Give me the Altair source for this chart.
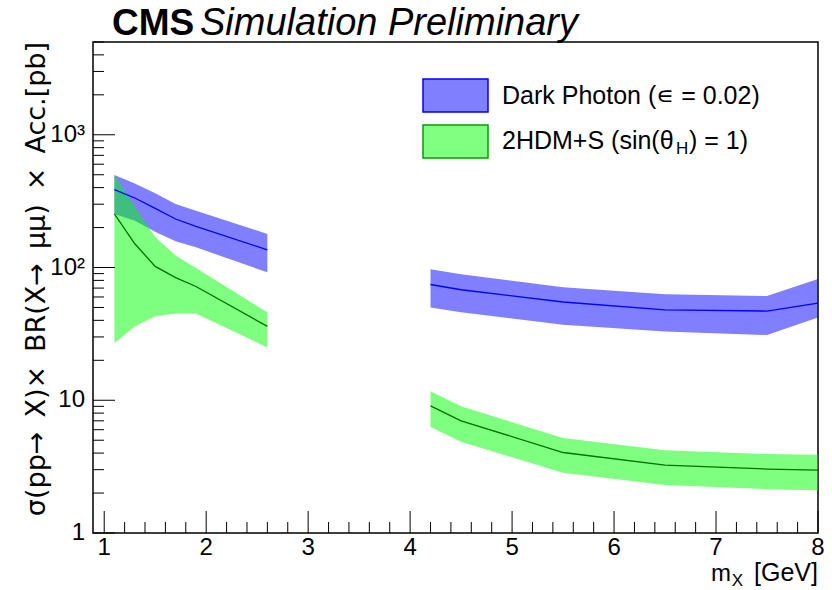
import altair as alt
import pandas as pd

# ---------------- data ----------------
mass_low = [1.1, 1.3, 1.5, 1.7, 1.9, 2.6]
mass_high = [4.2, 4.5, 5.5, 6.5, 7.5, 8.0]

dp_central_low = [386, 334, 279, 232, 204, 136]
dp_up_low = [498, 430, 362, 301, 268, 179]
dp_down_low = [253, 225, 186, 158, 142, 92]
dp_central_high = [74.5, 68, 55, 48, 47, 54]
dp_up_high = [97, 89, 71, 63, 61, 82]
dp_down_high = [50, 46, 37, 33, 31, 42]

hdm_central_low = [254, 151, 102, 84, 72, 36]
hdm_up_low = [498, 288, 170, 123, 99, 46]
hdm_down_low = [27, 36, 43, 45, 45, 25]
hdm_central_high = [9.06, 7.0, 4.04, 3.25, 3.03, 2.98]
hdm_up_high = [11.7, 9.0, 5.2, 4.2, 3.93, 3.88]
hdm_down_high = [6.3, 4.86, 2.84, 2.30, 2.14, 2.10]

y_major = [1, 10, 100, 1000]
y_major_labels = ["1", "10", "10²", "10³"]
y_minor = [m * d for d in [1, 10, 100, 1000] for m in range(2, 10) if m * d <= 5000]
x_major = [1, 2, 3, 4, 5, 6, 7, 8]
x_minor = [round(1 + 0.2 * i, 1) for i in range(36) if round(1 + 0.2 * i, 1) not in x_major]

legend_labels = ["Dark Photon (∊ = 0.02)", "2HDM+S (sin(θ"]

W, H = 725, 491
XDOM = [0.89, 8.0]
YDOM = [1, 5000]

rows = []
for seg, xs_, c, u, d in [("a", mass_low, dp_central_low, dp_up_low, dp_down_low),
                          ("b", mass_high, dp_central_high, dp_up_high, dp_down_high)]:
    for xi, ci, ui, di in zip(xs_, c, u, d):
        rows.append(dict(model="dp", seg=seg, m=xi, c=ci, up=ui, down=di))
for seg, xs_, c, u, d in [("a", mass_low, hdm_central_low, hdm_up_low, hdm_down_low),
                          ("b", mass_high, hdm_central_high, hdm_up_high, hdm_down_high)]:
    for xi, ci, ui, di in zip(xs_, c, u, d):
        rows.append(dict(model="hdm", seg=seg, m=xi, c=ci, up=ui, down=di))
df = pd.DataFrame(rows)
dp = df[df.model == "dp"]
hdm = df[df.model == "hdm"]

xs = alt.Scale(domain=XDOM, nice=False, zero=False)
ys = alt.Scale(type="log", domain=YDOM, nice=False)
X = alt.X("m:Q", scale=xs, axis=None)

def band(d, color):
    return alt.Chart(d).mark_area(color=color, opacity=0.5, clip=True).encode(
        x=X,
        y=alt.Y("down:Q", scale=ys, axis=None, stack=None),
        y2="up:Q",
        detail="seg:N",
    )

def line(d, color):
    return alt.Chart(d).mark_line(color=color, strokeWidth=1.3, clip=True).encode(
        x=X,
        y=alt.Y("c:Q", scale=ys, axis=None),
        detail="seg:N",
        order="m:Q",
    )

FONT = "Liberation Sans"

# ticks
ymaj = pd.DataFrame({"v": y_major, "lab": y_major_labels})
ymin = pd.DataFrame({"v": y_minor})
xmaj = pd.DataFrame({"v": x_major, "lab": [str(v) for v in x_major]})
xmin = pd.DataFrame({"v": x_minor})

ytick_major = alt.Chart(ymaj).mark_rule(color="black", strokeWidth=1).encode(
    y=alt.Y("v:Q", scale=ys, axis=None), x=alt.value(0), x2=alt.value(22))
ytick_minor = alt.Chart(ymin).mark_rule(color="black", strokeWidth=1).encode(
    y=alt.Y("v:Q", scale=ys, axis=None), x=alt.value(0), x2=alt.value(11))
ylabels = alt.Chart(ymaj).mark_text(align="right", baseline="middle", font=FONT,
                                     fontSize=24, dx=-8).encode(
    y=alt.Y("v:Q", scale=ys, axis=None), x=alt.value(0), text="lab:N")

xtick_major = alt.Chart(xmaj).mark_rule(color="black", strokeWidth=1).encode(
    x=alt.X("v:Q", scale=xs, axis=None), y=alt.value(H), y2=alt.value(H - 22))
xtick_minor = alt.Chart(xmin).mark_rule(color="black", strokeWidth=1).encode(
    x=alt.X("v:Q", scale=xs, axis=None), y=alt.value(H), y2=alt.value(H - 11))
xlabels = alt.Chart(xmaj).mark_text(align="center", baseline="top", font=FONT,
                                     fontSize=24, dy=3).encode(
    x=alt.X("v:Q", scale=xs, axis=None), y=alt.value(H), text="lab:N")

def txt(s, x, y, size, font=FONT, **kw):
    return alt.Chart(pd.DataFrame({"t": [s]})).mark_text(font=font, fontSize=size, **kw).encode(
        x=alt.value(x), y=alt.value(y), text="t:N")

SP = " \u2009"
ytitle = "σ(pp\u2192" + SP + "X)\u00d7" + SP + "BR(X\u2192" + SP + "μμ)" + SP + "\u00d7" + SP + "Acc.[pb]"

titles = [
    txt("CMS", 19, -7, 37, fontWeight="bold", align="left", baseline="alphabetic"),
    txt("Simulation Preliminary", 107, -7, 38, fontStyle="italic", align="left", baseline="alphabetic"),
    txt(ytitle, -56, 0, 27, font="DejaVu Sans", angle=270, align="right", baseline="middle"),
    txt("[GeV]", 725, 539, 25, align="right", baseline="alphabetic"),
    txt("X", 650, 544, 17, align="right", baseline="alphabetic"),
    txt("m", 638, 539, 24, align="right", baseline="alphabetic"),
]

# legend
leg_rect = pd.DataFrame({"x1": [330, 330], "x2": [395, 395], "y1": [37, 83], "y2": [70, 116],
                         "fill": ["#8080ff", "#80ff80"], "stroke": ["#0000ff", "#00a000"]})
legend_boxes = alt.Chart(leg_rect).mark_rect(strokeWidth=1.5).encode(
    x=alt.X("x1:Q", scale=None), x2="x2:Q",
    y=alt.Y("y1:Q", scale=None), y2="y2:Q",
    fill=alt.Fill("fill:N", scale=None), stroke=alt.Stroke("stroke:N", scale=None))

legend_text = [
    txt(legend_labels[0], 409, 62, 25, align="left", baseline="alphabetic"),
    txt(legend_labels[1], 409, 107, 25, align="left", baseline="alphabetic"),
    txt("H", 583, 112, 17, align="left", baseline="alphabetic"),
    txt(") = 1)", 596, 107, 25, align="left", baseline="alphabetic"),
]

chart = alt.layer(
    band(dp, "#0000ff"),
    band(hdm, "#00ff00"),
    line(dp, "#0000ff"),
    line(hdm, "#007000"),
    ytick_major, ytick_minor, ylabels,
    xtick_major, xtick_minor, xlabels,
    legend_boxes,
    *legend_text,
    *titles,
).properties(
    width=W, height=H,
    padding={"left": 93, "top": 42, "right": 14, "bottom": 57},
    autosize=alt.AutoSizeParams(type="none"),
    background="white",
).configure_view(stroke="black", strokeWidth=1.5)

chart.save("out.html", embed_options={"renderer": "svg", "actions": False})
